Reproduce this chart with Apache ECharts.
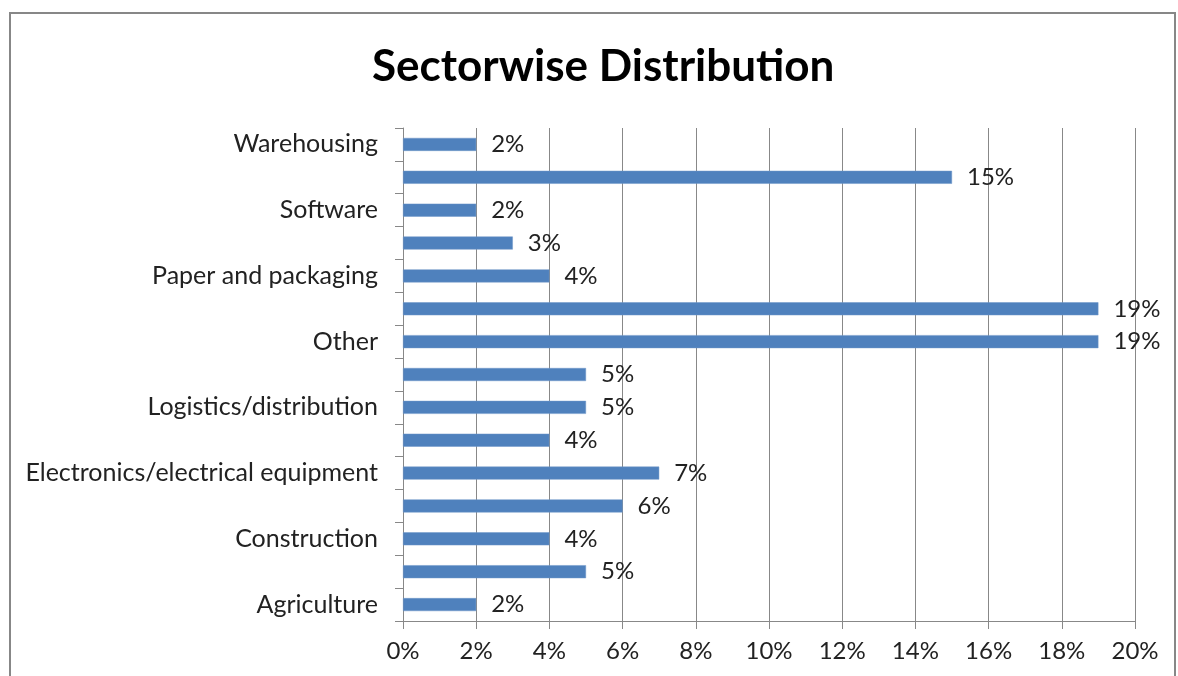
<!DOCTYPE html>
<html>
<head>
<meta charset="utf-8">
<script src="https://cdn.jsdelivr.net/npm/echarts@6/dist/echarts.min.js"></script>
<style>
  html, body { margin: 0; padding: 0; background: #fff; }
  #chart { width: 1178px; height: 676px; }
</style>
</head>
<body>
<div id="chart"></div>
<script>
// Sectors listed bottom to top
const sectors = [
  'Agriculture',
  'Automotive',
  'Construction',
  'Consumer goods',
  'Electronics/electrical equipment',
  'Food and beverage',
  'Logistics/distribution',
  'Manufacturing',
  'Other',
  'Outsourcing',
  'Paper and packaging',
  'Retail',
  'Software',
  'Transportation',
  'Warehousing'
];
// Share of respondents per sector, in percent
const shares = [2, 5, 4, 6, 7, 4, 5, 5, 19, 19, 4, 3, 2, 15, 2];
// Value axis ticks (percent)
const axisMin = 0;
const axisMax = 20;
const axisStep = 2;

const FONT = 'Lato, "Open Sans", sans-serif';
const chart = echarts.init(document.getElementById('chart'));

chart.setOption({
  backgroundColor: '#ffffff',
  animation: false,
  graphic: [{
    type: 'rect',
    shape: { x: 10, y: 13, width: 1165, height: 700 },
    style: { fill: 'none', stroke: '#878787', lineWidth: 2 },
    silent: true
  }],
  title: {
    text: 'Sectorwise Distribution',
    left: 367,
    top: 40,
    textStyle: { fontFamily: FONT, fontWeight: 'bold', fontSize: 44, color: '#000' }
  },
  grid: { left: 403, right: 43, top: 128, bottom: 55, containLabel: false },
  xAxis: {
    type: 'value',
    min: axisMin,
    max: axisMax,
    interval: axisStep,
    axisLine: { show: true, lineStyle: { color: '#888', width: 1 } },
    axisTick: { show: true, length: 8, lineStyle: { color: '#888' } },
    splitLine: { show: true, lineStyle: { color: '#888', width: 1 } },
    axisLabel: {
      formatter: v => v + '%',
      fontFamily: FONT, fontSize: 24, color: '#222', margin: 18
    }
  },
  yAxis: {
    type: 'category',
    data: sectors,
    axisLine: { show: true, lineStyle: { color: '#888', width: 1 } },
    axisTick: { show: true, length: 8, interval: 0, lineStyle: { color: '#888' } },
    axisLabel: {
      interval: 1,
      fontFamily: FONT, fontSize: 25, color: '#222', margin: 25,
      padding: [0, 0, 3, 0]
    },
    splitLine: { show: false }
  },
  series: [{
    type: 'bar',
    data: shares,
    barWidth: 13,
    itemStyle: { color: '#4f81bd', borderColor: '#6f97c9', borderWidth: 0.5 },
    label: {
      show: true,
      position: 'right',
      distance: 15,
      formatter: p => p.value + '%',
      fontFamily: FONT, fontSize: 24, color: '#222'
    }
  }]
});
</script>
</body>
</html>
